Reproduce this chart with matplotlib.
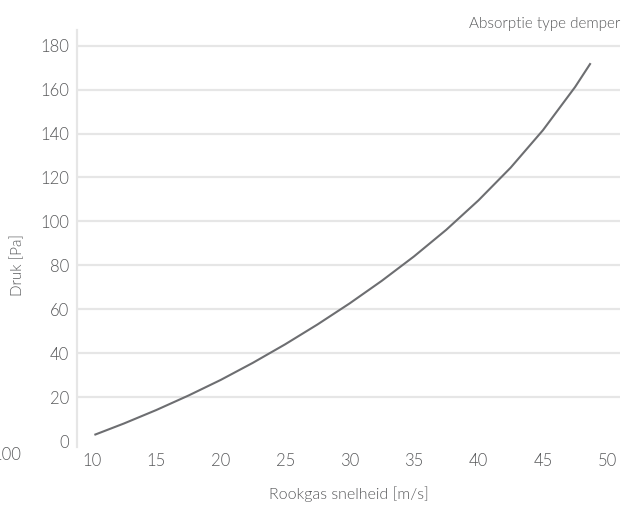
import matplotlib
matplotlib.use("Agg")
import matplotlib.pyplot as plt

# --- data ---
snelheid = [10.2, 12.5, 15.0, 17.5, 20.0, 22.5, 25.0, 27.5, 30.0, 32.5, 35.0,
            37.5, 40.0, 42.5, 45.0, 47.5, 48.7]
druk = [2.9, 8.1, 14.2, 20.8, 27.9, 35.7, 44.1, 53.1, 62.7, 73.0, 84.1,
        96.2, 109.6, 124.5, 141.5, 161.2, 172.0]

xTicks = [10, 15, 20, 25, 30, 35, 40, 45, 50]
yTicks = [0, 20, 40, 60, 80, 100, 120, 140, 160, 180]

textColor = "#58595b"
lineColor = "#6d6e71"
gridColor = "#e6e6e6"

plt.rcParams['font.family'] = ['Lato', 'DejaVu Sans']
plt.rcParams['font.weight'] = 300

fig = plt.figure(figsize=(6.24, 5.12), dpi=100)
ax = fig.add_axes([0.124, 0.127, 0.870, 0.814])

ax.plot(snelheid, druk, color=lineColor, linewidth=1.5,
        solid_capstyle='butt', solid_joinstyle='round')

ax.set_xlim(8.88, 51.0)
ax.set_ylim(-2.6, 187)
ax.set_xticks(xTicks)
ax.set_yticks(yTicks)

ax.grid(axis='y', color=gridColor, linewidth=1.6)
ax.yaxis.get_gridlines()[0].set_visible(False)
ax.set_axisbelow(True)

for side in ['top', 'right', 'bottom']:
    ax.spines[side].set_visible(False)
ax.spines['left'].set_color(gridColor)
ax.spines['left'].set_linewidth(1.6)

ax.tick_params(axis='both', length=0, labelsize=12, labelcolor=textColor)
ax.tick_params(axis='y', pad=6)
ax.tick_params(axis='x', pad=4)
for lbl in ax.get_xticklabels() + ax.get_yticklabels():
    lbl.set_fontweight(300)

ax.set_xlabel('Rookgas snelheid [m/s]', fontsize=11.5, color=textColor,
              labelpad=13, fontweight=300)
fig.text(18 / 624, 1 - 265 / 512, 'Druk [Pa]', rotation=90, fontsize=11,
         color=textColor, ha='center', va='center', fontweight=300)
fig.text(0.994, 1 - 24 / 512, 'Absorptie type demper', fontsize=11,
         color=textColor, ha='right', va='center', fontweight=300)

# cut-off edge of the neighbouring chart
fig.text(-0.012, 1 - 455 / 512, '100', fontsize=12, color=textColor,
         ha='left', va='center', fontweight=300)

fig.savefig('out.png', dpi=100)
